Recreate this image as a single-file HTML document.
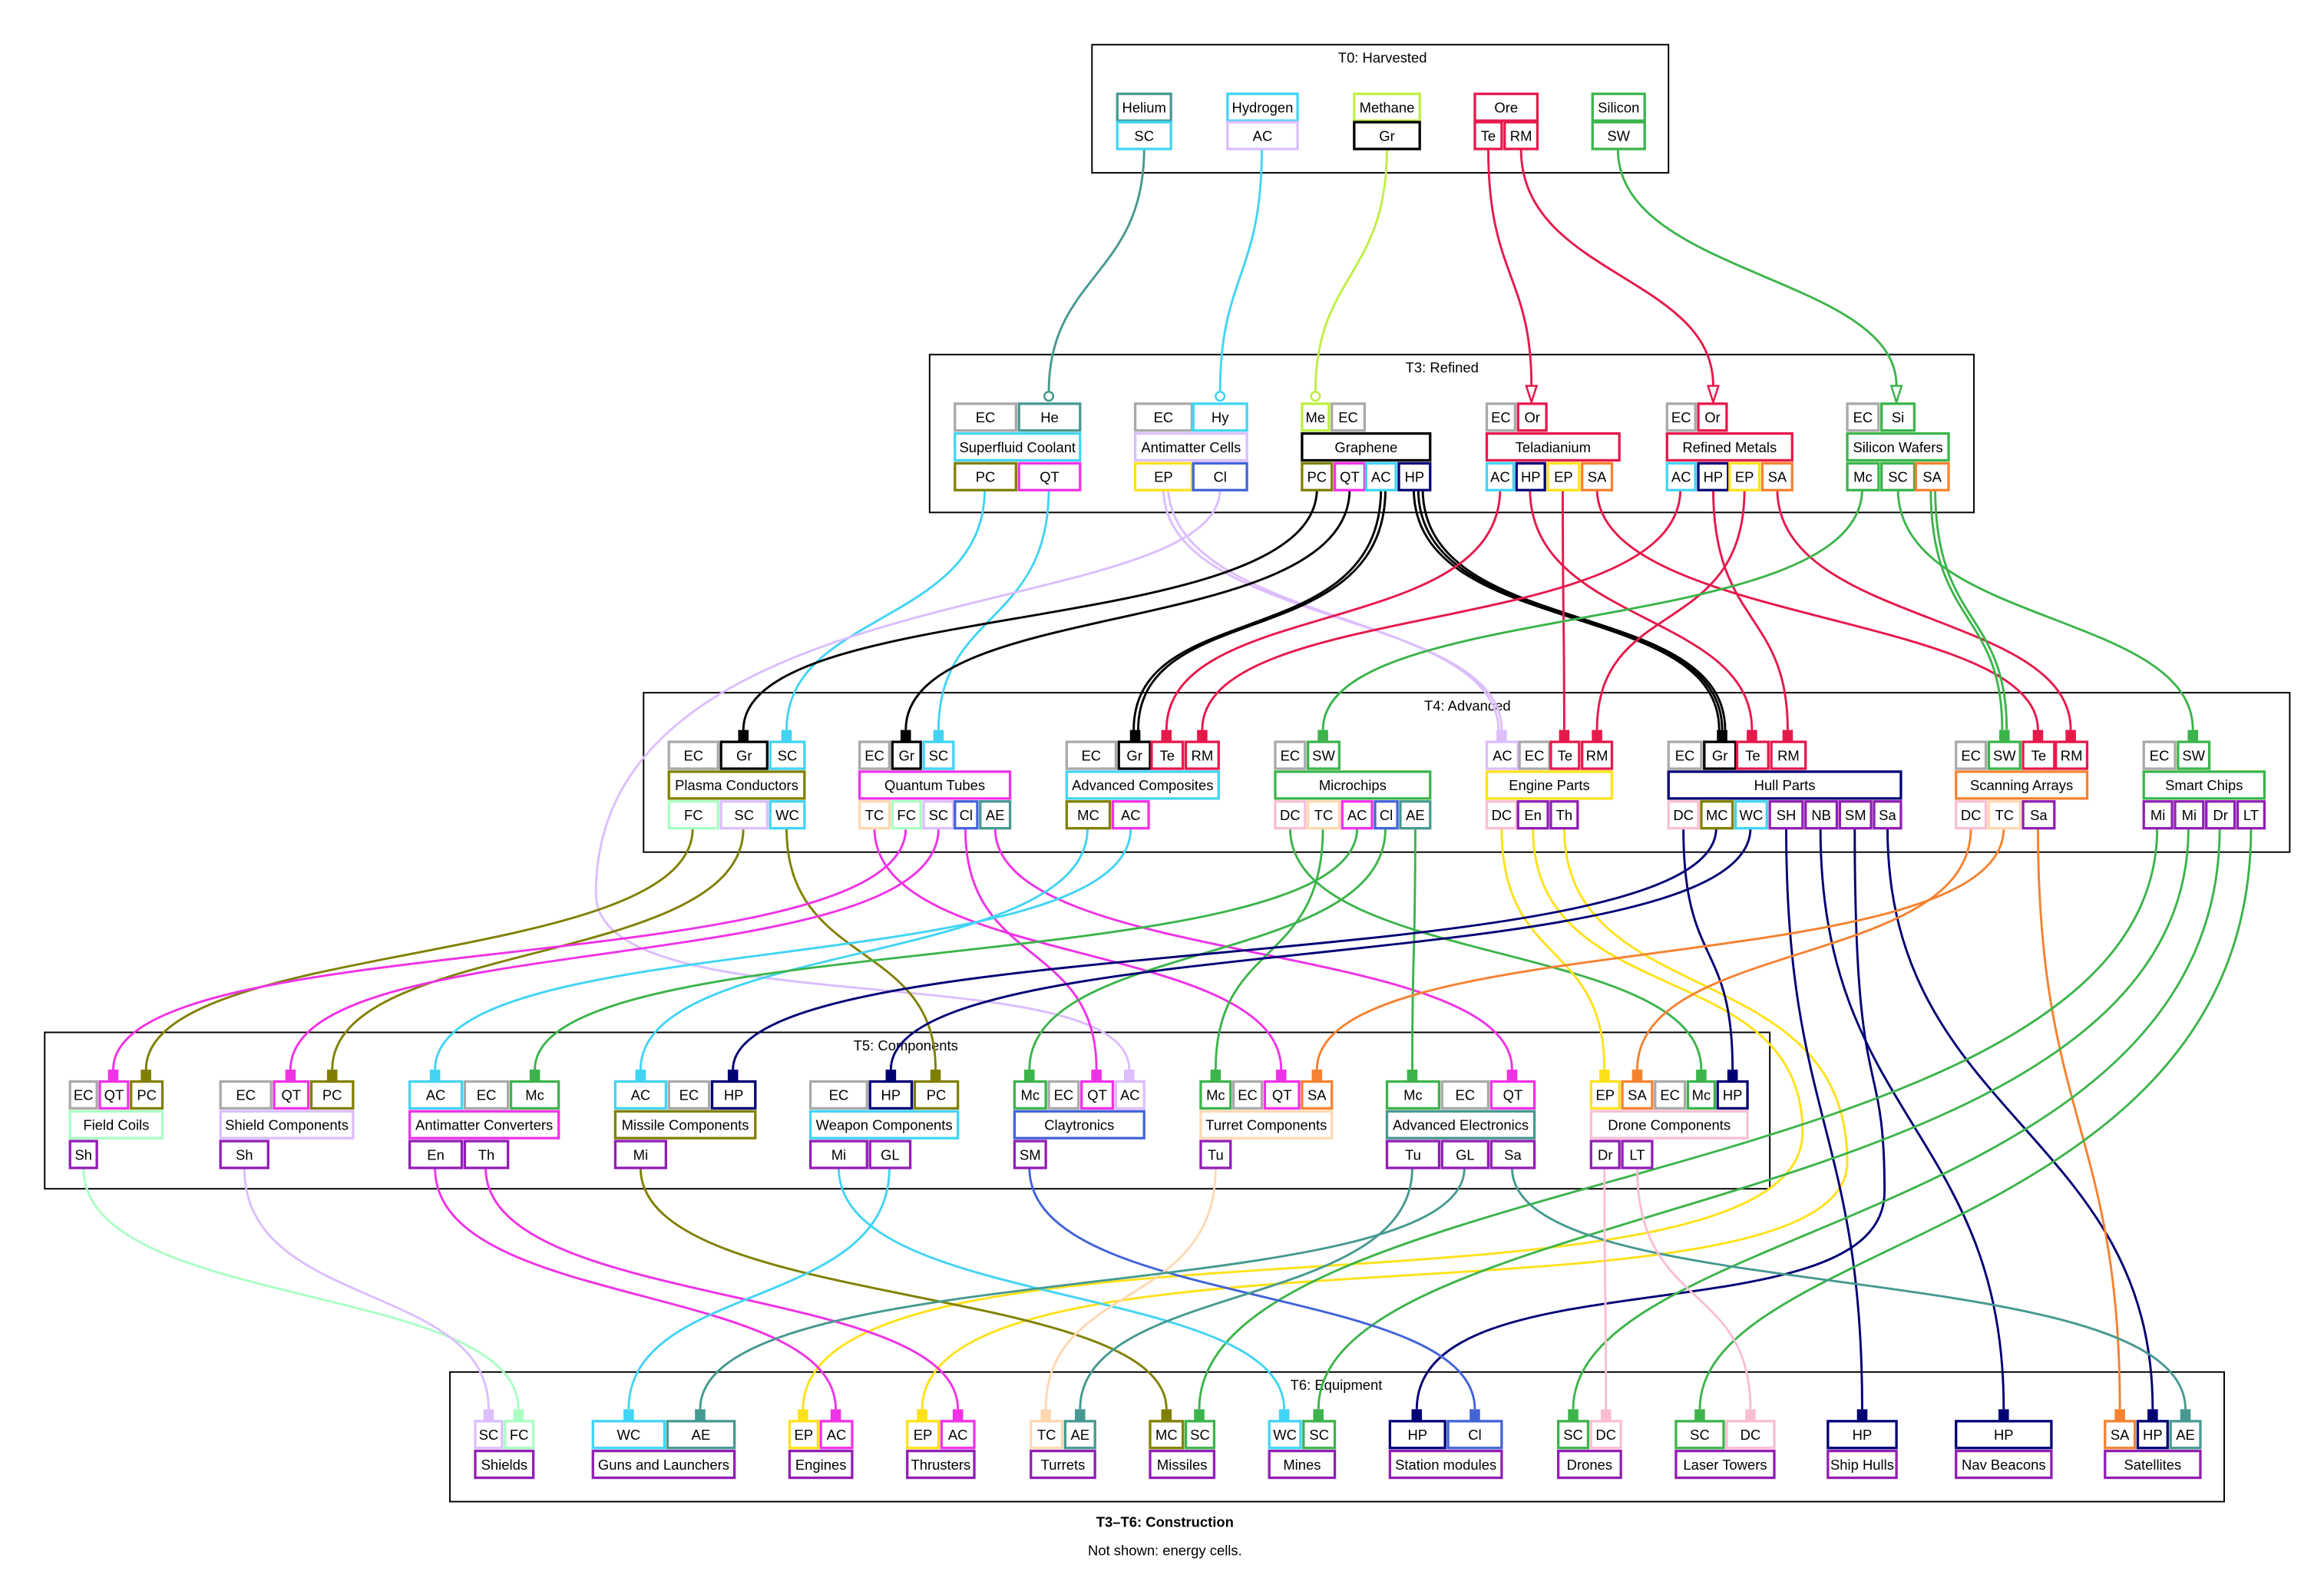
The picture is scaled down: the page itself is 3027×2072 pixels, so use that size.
<!DOCTYPE html>
<html><head><meta charset="utf-8"><style>
html,body{margin:0;padding:0;background:#fff}
svg{display:block}
text{font-family:"Liberation Sans",sans-serif;font-size:9.5px;text-anchor:middle;fill:#000}
.n rect{fill:#fff;stroke-width:1.7}
.e path{fill:none;stroke-width:1.5}
.cl{fill:none;stroke:#000;stroke-width:1}
</style></head><body>
<svg width="3027" height="2072" viewBox="0 0 1560 1068" preserveAspectRatio="none" xmlns="http://www.w3.org/2000/svg">
<rect x="0" y="0" width="1560" height="1068" fill="#fff"/>
<!-- clusters -->
<rect class="cl" x="733" y="30" width="387" height="86"/>
<text x="928" y="42">T0: Harvested</text>
<rect class="cl" x="624" y="238" width="701" height="106"/>
<text x="968" y="250">T3: Refined</text>
<rect class="cl" x="432" y="465" width="1105" height="107"/>
<text x="985" y="477">T4: Advanced</text>
<rect class="cl" x="30" y="693" width="1158" height="105"/>
<text x="608" y="705">T5: Components</text>
<rect class="cl" x="302" y="921" width="1191" height="87"/>
<text x="897" y="933">T6: Equipment</text>
<text x="782" y="1025" style="font-weight:bold">T3–T6: Construction</text>
<text x="782" y="1044">Not shown: energy cells.</text>

<!-- edges T0->T3 -->
<g class="e">
<path stroke="#469990" d="M768 100 C768 185 704 185 704 263"/>
<path stroke="#42d4f4" d="M847 100 C847 185 819 185 819 263"/>
<path stroke="#bfef45" d="M931 100 C931 185 883 185 883 263"/>
<path stroke="#e6194b" d="M999 100 C999 185 1028 185 1028 259"/>
<path stroke="#e6194b" d="M1021 100 C1021 185 1150 185 1150 259"/>
<path stroke="#3cb44b" d="M1086 100 C1086 185 1273 185 1273 259"/>
</g>
<g fill="#fff" stroke-width="1.3">
<circle cx="704" cy="266" r="3" stroke="#469990"/>
<circle cx="819" cy="266" r="3" stroke="#42d4f4"/>
<circle cx="883" cy="266" r="3" stroke="#bfef45"/>
<polygon points="1024.5,259 1031.5,259 1028,270" stroke="#e6194b"/>
<polygon points="1146.5,259 1153.5,259 1150,270" stroke="#e6194b"/>
<polygon points="1269.5,259 1276.5,259 1273,270" stroke="#3cb44b"/>
</g>

<!-- edges T3->T4 -->
<g class="e">
<path stroke="#42d4f4" d="M661 328 C661 420 528 410 528 490"/>
<path stroke="#42d4f4" d="M704 328 C704 420 630 410 630 490"/>
<path stroke="#dcbeff" d="M781 328 C781 420 1008 410 1008 490"/>
<path stroke="#dcbeff" d="M784 328 C790 420 1004 410 1006 490"/>
<path stroke="#dcbeff" d="M819 328 C819 420 400 380 400 600 C400 690 758 640 758 718"/>
<path stroke="#000" d="M884 328 C884 430 499 400 499 490"/>
<path stroke="#000" d="M906 328 C906 430 608 400 608 490"/>
<path stroke="#000" d="M927 328 C927 440 761 400 761 490"/>
<path stroke="#000" d="M930 328 C930 440 764 400 764 490"/>
<path stroke="#000" d="M949 328 C949 430 1154 400 1154 490"/>
<path stroke="#000" d="M952 328 C952 430 1156 400 1156 490"/>
<path stroke="#000" d="M955 328 C955 430 1158 400 1158 490"/>
<path stroke="#e6194b" d="M1007 328 C1007 430 783 400 783 490"/>
<path stroke="#e6194b" d="M1027 328 C1027 420 1176 410 1176 490"/>
<path stroke="#e6194b" d="M1049 328 C1049 420 1050 410 1050 490"/>
<path stroke="#e6194b" d="M1072 328 C1072 420 1368 410 1368 490"/>
<path stroke="#e6194b" d="M1128 328 C1128 430 807 400 807 490"/>
<path stroke="#e6194b" d="M1150 328 C1150 420 1200 410 1200 490"/>
<path stroke="#e6194b" d="M1171 328 C1171 430 1072 400 1072 490"/>
<path stroke="#e6194b" d="M1193 328 C1193 420 1390 410 1390 490"/>
<path stroke="#3cb44b" d="M1250 328 C1250 430 888 400 888 490"/>
<path stroke="#3cb44b" d="M1274 328 C1274 420 1472 410 1472 490"/>
<path stroke="#3cb44b" d="M1296 328 C1296 420 1344 410 1344 490"/>
<path stroke="#3cb44b" d="M1299 328 C1299 420 1347 410 1347 490"/>
</g>

<!-- edges T4->T5 -->
<g class="e">
<path stroke="#808000" d="M465 556 C465 650 98 630 98 718"/>
<path stroke="#808000" d="M499 556 C499 650 223 630 223 718"/>
<path stroke="#808000" d="M528 556 C528 650 628 630 628 718"/>
<path stroke="#f032e6" d="M587 556 C587 650 860 630 860 718"/>
<path stroke="#f032e6" d="M608 556 C608 660 76 620 76 718"/>
<path stroke="#f032e6" d="M630 556 C630 660 195 620 195 718"/>
<path stroke="#f032e6" d="M648 556 C648 650 736 630 736 718"/>
<path stroke="#f032e6" d="M668 556 C668 650 1015 630 1015 718"/>
<path stroke="#42d4f4" d="M730 556 C730 650 430 630 430 718"/>
<path stroke="#42d4f4" d="M759 556 C759 660 292 620 292 718"/>
<path stroke="#3cb44b" d="M866 556 C866 650 1142 630 1142 718"/>
<path stroke="#3cb44b" d="M888 556 C888 650 816 630 816 718"/>
<path stroke="#3cb44b" d="M911 556 C911 660 359 620 359 718"/>
<path stroke="#3cb44b" d="M930 556 C930 650 691 630 691 718"/>
<path stroke="#3cb44b" d="M950 556 C950 650 948 630 948 718"/>
<path stroke="#ffe119" d="M1008 556 C1008 650 1077 630 1077 718"/>
<path stroke="#ffe119" d="M1029 556 C1029 680 1210 640 1210 760 C1210 900 539 800 539 946"/>
<path stroke="#ffe119" d="M1050 556 C1050 680 1240 640 1240 780 C1240 900 619 810 619 946"/>
<path stroke="#000075" d="M1130 556 C1130 650 1163 630 1163 718"/>
<path stroke="#000075" d="M1152 556 C1152 660 492 620 492 718"/>
<path stroke="#000075" d="M1175 556 C1175 660 598 620 598 718"/>
<path stroke="#000075" d="M1199 556 C1199 750 1250 760 1250 946"/>
<path stroke="#000075" d="M1222 556 C1222 750 1345 760 1345 946"/>
<path stroke="#000075" d="M1245 556 C1245 750 1265 700 1265 800 C1265 900 951 840 951 946"/>
<path stroke="#000075" d="M1267 556 C1267 750 1445 760 1445 946"/>
<path stroke="#f58231" d="M1323 556 C1323 650 1099 630 1099 718"/>
<path stroke="#f58231" d="M1345 556 C1345 660 884 620 884 718"/>
<path stroke="#f58231" d="M1368 556 C1368 750 1423 760 1423 946"/>
<path stroke="#3cb44b" d="M1448 556 C1448 800 805 780 805 946"/>
<path stroke="#3cb44b" d="M1469 556 C1469 820 885 800 885 946"/>
<path stroke="#3cb44b" d="M1490 556 C1490 820 1056 820 1056 946"/>
<path stroke="#3cb44b" d="M1511 556 C1511 830 1141 830 1141 946"/>
</g>

<!-- edges T5->T6 -->
<g class="e">
<path stroke="#aaffc3" d="M56 784 C56 880 348 860 348 946"/>
<path stroke="#dcbeff" d="M164 784 C164 880 328 860 328 946"/>
<path stroke="#f032e6" d="M292 784 C292 880 561 860 561 946"/>
<path stroke="#f032e6" d="M326 784 C326 880 643 860 643 946"/>
<path stroke="#808000" d="M430 784 C430 880 783 860 783 946"/>
<path stroke="#42d4f4" d="M563 784 C563 880 862 860 862 946"/>
<path stroke="#42d4f4" d="M597 784 C597 880 422 860 422 946"/>
<path stroke="#4363d8" d="M691 784 C691 880 990 860 990 946"/>
<path stroke="#ffd8b1" d="M816 784 C816 880 702 860 702 946"/>
<path stroke="#469990" d="M948 784 C948 880 725 860 725 946"/>
<path stroke="#469990" d="M983 784 C983 880 470 840 470 946"/>
<path stroke="#469990" d="M1015 784 C1015 880 1467 840 1467 946"/>
<path stroke="#fabed4" d="M1077 784 C1077 880 1078 860 1078 946"/>
<path stroke="#fabed4" d="M1099 784 C1099 880 1175 860 1175 946"/>
</g>

<!-- square arrowheads -->
<g>
<rect x="524.5" y="490" width="7" height="8" fill="#42d4f4"/>
<rect x="626.5" y="490" width="7" height="8" fill="#42d4f4"/>
<rect x="1004.5" y="490" width="7" height="8" fill="#dcbeff"/>
<rect x="754.5" y="718" width="7" height="8" fill="#dcbeff"/>
<rect x="495.5" y="490" width="7" height="8" fill="#000"/>
<rect x="604.5" y="490" width="7" height="8" fill="#000"/>
<rect x="758.5" y="490" width="7" height="8" fill="#000"/>
<rect x="1152.5" y="490" width="7" height="8" fill="#000"/>
<rect x="779.5" y="490" width="7" height="8" fill="#e6194b"/>
<rect x="1172.5" y="490" width="7" height="8" fill="#e6194b"/>
<rect x="1046.5" y="490" width="7" height="8" fill="#e6194b"/>
<rect x="1364.5" y="490" width="7" height="8" fill="#e6194b"/>
<rect x="803.5" y="490" width="7" height="8" fill="#e6194b"/>
<rect x="1196.5" y="490" width="7" height="8" fill="#e6194b"/>
<rect x="1068.5" y="490" width="7" height="8" fill="#e6194b"/>
<rect x="1386.5" y="490" width="7" height="8" fill="#e6194b"/>
<rect x="884.5" y="490" width="7" height="8" fill="#3cb44b"/>
<rect x="1468.5" y="490" width="7" height="8" fill="#3cb44b"/>
<rect x="1342" y="490" width="7" height="8" fill="#3cb44b"/>

<rect x="94.5" y="718" width="7" height="8" fill="#808000"/>
<rect x="219.5" y="718" width="7" height="8" fill="#808000"/>
<rect x="624.5" y="718" width="7" height="8" fill="#808000"/>
<rect x="856.5" y="718" width="7" height="8" fill="#f032e6"/>
<rect x="72.5" y="718" width="7" height="8" fill="#f032e6"/>
<rect x="191.5" y="718" width="7" height="8" fill="#f032e6"/>
<rect x="732.5" y="718" width="7" height="8" fill="#f032e6"/>
<rect x="1011.5" y="718" width="7" height="8" fill="#f032e6"/>
<rect x="426.5" y="718" width="7" height="8" fill="#42d4f4"/>
<rect x="288.5" y="718" width="7" height="8" fill="#42d4f4"/>
<rect x="1138.5" y="718" width="7" height="8" fill="#3cb44b"/>
<rect x="812.5" y="718" width="7" height="8" fill="#3cb44b"/>
<rect x="355.5" y="718" width="7" height="8" fill="#3cb44b"/>
<rect x="687.5" y="718" width="7" height="8" fill="#3cb44b"/>
<rect x="944.5" y="718" width="7" height="8" fill="#3cb44b"/>
<rect x="1073.5" y="718" width="7" height="8" fill="#ffe119"/>
<rect x="1159.5" y="718" width="7" height="8" fill="#000075"/>
<rect x="488.5" y="718" width="7" height="8" fill="#000075"/>
<rect x="594.5" y="718" width="7" height="8" fill="#000075"/>
<rect x="1095.5" y="718" width="7" height="8" fill="#f58231"/>
<rect x="880.5" y="718" width="7" height="8" fill="#f58231"/>

<rect x="535.5" y="946" width="7" height="8" fill="#ffe119"/>
<rect x="615.5" y="946" width="7" height="8" fill="#ffe119"/>
<rect x="1246.5" y="946" width="7" height="8" fill="#000075"/>
<rect x="1341.5" y="946" width="7" height="8" fill="#000075"/>
<rect x="947.5" y="946" width="7" height="8" fill="#000075"/>
<rect x="1441.5" y="946" width="7" height="8" fill="#000075"/>
<rect x="1419.5" y="946" width="7" height="8" fill="#f58231"/>
<rect x="801.5" y="946" width="7" height="8" fill="#3cb44b"/>
<rect x="881.5" y="946" width="7" height="8" fill="#3cb44b"/>
<rect x="1052.5" y="946" width="7" height="8" fill="#3cb44b"/>
<rect x="1137.5" y="946" width="7" height="8" fill="#3cb44b"/>
<rect x="344.5" y="946" width="7" height="8" fill="#aaffc3"/>
<rect x="324.5" y="946" width="7" height="8" fill="#dcbeff"/>
<rect x="557.5" y="946" width="7" height="8" fill="#f032e6"/>
<rect x="639.5" y="946" width="7" height="8" fill="#f032e6"/>
<rect x="779.5" y="946" width="7" height="8" fill="#808000"/>
<rect x="858.5" y="946" width="7" height="8" fill="#42d4f4"/>
<rect x="418.5" y="946" width="7" height="8" fill="#42d4f4"/>
<rect x="986.5" y="946" width="7" height="8" fill="#4363d8"/>
<rect x="698.5" y="946" width="7" height="8" fill="#ffd8b1"/>
<rect x="721.5" y="946" width="7" height="8" fill="#469990"/>
<rect x="466.5" y="946" width="7" height="8" fill="#469990"/>
<rect x="1463.5" y="946" width="7" height="8" fill="#469990"/>
<rect x="1074.5" y="946" width="7" height="8" fill="#fabed4"/>
<rect x="1171.5" y="946" width="7" height="8" fill="#fabed4"/>
</g>

<!-- NODES -->
<g class="n">
<!-- T0 -->
<rect x="750" y="63" width="36" height="18" stroke="#469990"/><text x="768" y="75.5">Helium</text>
<rect x="750" y="82" width="36" height="18" stroke="#42d4f4"/><text x="768" y="94.5">SC</text>
<rect x="824" y="63" width="47" height="18" stroke="#42d4f4"/><text x="847.5" y="75.5">Hydrogen</text>
<rect x="824" y="82" width="47" height="18" stroke="#dcbeff"/><text x="847.5" y="94.5">AC</text>
<rect x="909" y="63" width="44" height="18" stroke="#bfef45"/><text x="931" y="75.5">Methane</text>
<rect x="909" y="82" width="44" height="18" stroke="#000"/><text x="931" y="94.5">Gr</text>
<rect x="990" y="63" width="42" height="18" stroke="#e6194b"/><text x="1011" y="75.5">Ore</text>
<rect x="990" y="82" width="18" height="18" stroke="#e6194b"/><text x="999" y="94.5">Te</text>
<rect x="1010" y="82" width="22" height="18" stroke="#e6194b"/><text x="1021" y="94.5">RM</text>
<rect x="1069" y="63" width="35" height="18" stroke="#3cb44b"/><text x="1086.5" y="75.5">Silicon</text>
<rect x="1069" y="82" width="35" height="18" stroke="#3cb44b"/><text x="1086.5" y="94.5">SW</text>

<!-- T3 -->
<rect x="641" y="271" width="41" height="18" stroke="#a9a9a9"/><text x="661.5" y="283.5">EC</text>
<rect x="684" y="271" width="41" height="18" stroke="#469990"/><text x="704.5" y="283.5">He</text>
<rect x="641" y="291" width="84" height="18" stroke="#42d4f4"/><text x="683" y="303.5">Superfluid Coolant</text>
<rect x="641" y="311" width="41" height="18" stroke="#808000"/><text x="661.5" y="323.5">PC</text>
<rect x="684" y="311" width="41" height="18" stroke="#f032e6"/><text x="704.5" y="323.5">QT</text>

<rect x="762" y="271" width="38" height="18" stroke="#a9a9a9"/><text x="781" y="283.5">EC</text>
<rect x="801" y="271" width="36" height="18" stroke="#42d4f4"/><text x="819" y="283.5">Hy</text>
<rect x="762" y="291" width="75" height="18" stroke="#dcbeff"/><text x="799.5" y="303.5">Antimatter Cells</text>
<rect x="762" y="311" width="38" height="18" stroke="#ffe119"/><text x="781" y="323.5">EP</text>
<rect x="801" y="311" width="36" height="18" stroke="#4363d8"/><text x="819" y="323.5">Cl</text>

<rect x="874" y="271" width="18" height="18" stroke="#bfef45"/><text x="883" y="283.5">Me</text>
<rect x="894" y="271" width="22" height="18" stroke="#a9a9a9"/><text x="905" y="283.5">EC</text>
<rect x="874" y="291" width="86" height="18" stroke="#000"/><text x="917" y="303.5">Graphene</text>
<rect x="874" y="311" width="20" height="18" stroke="#808000"/><text x="884" y="323.5">PC</text>
<rect x="896" y="311" width="20" height="18" stroke="#f032e6"/><text x="906" y="323.5">QT</text>
<rect x="917" y="311" width="20" height="18" stroke="#42d4f4"/><text x="927" y="323.5">AC</text>
<rect x="939" y="311" width="21" height="18" stroke="#000075"/><text x="949.5" y="323.5">HP</text>

<rect x="998" y="271" width="19" height="18" stroke="#a9a9a9"/><text x="1007.5" y="283.5">EC</text>
<rect x="1019" y="271" width="19" height="18" stroke="#e6194b"/><text x="1028.5" y="283.5">Or</text>
<rect x="998" y="291" width="89" height="18" stroke="#e6194b"/><text x="1042.5" y="303.5">Teladianium</text>
<rect x="998" y="311" width="18" height="18" stroke="#42d4f4"/><text x="1007" y="323.5">AC</text>
<rect x="1018" y="311" width="19" height="18" stroke="#000075"/><text x="1027.5" y="323.5">HP</text>
<rect x="1039" y="311" width="21" height="18" stroke="#ffe119"/><text x="1049.5" y="323.5">EP</text>
<rect x="1062" y="311" width="20" height="18" stroke="#f58231"/><text x="1072" y="323.5">SA</text>

<rect x="1119" y="271" width="19" height="18" stroke="#a9a9a9"/><text x="1128.5" y="283.5">EC</text>
<rect x="1140" y="271" width="19" height="18" stroke="#e6194b"/><text x="1149.5" y="283.5">Or</text>
<rect x="1119" y="291" width="84" height="18" stroke="#e6194b"/><text x="1161" y="303.5">Refined Metals</text>
<rect x="1119" y="311" width="19" height="18" stroke="#42d4f4"/><text x="1128.5" y="323.5">AC</text>
<rect x="1140" y="311" width="20" height="18" stroke="#000075"/><text x="1150" y="323.5">HP</text>
<rect x="1161" y="311" width="20" height="18" stroke="#ffe119"/><text x="1171" y="323.5">EP</text>
<rect x="1183" y="311" width="20" height="18" stroke="#f58231"/><text x="1193" y="323.5">SA</text>

<rect x="1240" y="271" width="21" height="18" stroke="#a9a9a9"/><text x="1250.5" y="283.5">EC</text>
<rect x="1263" y="271" width="22" height="18" stroke="#3cb44b"/><text x="1274" y="283.5">Si</text>
<rect x="1240" y="291" width="68" height="18" stroke="#3cb44b"/><text x="1274" y="303.5">Silicon Wafers</text>
<rect x="1240" y="311" width="21" height="18" stroke="#3cb44b"/><text x="1250.5" y="323.5">Mc</text>
<rect x="1263" y="311" width="22" height="18" stroke="#3cb44b"/><text x="1274" y="323.5">SC</text>
<rect x="1286" y="311" width="22" height="18" stroke="#f58231"/><text x="1297" y="323.5">SA</text>

<!-- T4 -->
<rect x="449" y="498" width="33" height="18" stroke="#a9a9a9"/><text x="465.5" y="510.5">EC</text>
<rect x="484" y="498" width="31" height="18" stroke="#000"/><text x="499.5" y="510.5">Gr</text>
<rect x="517" y="498" width="23" height="18" stroke="#42d4f4"/><text x="528.5" y="510.5">SC</text>
<rect x="449" y="518" width="91" height="18" stroke="#808000"/><text x="494.5" y="530.5">Plasma Conductors</text>
<rect x="449" y="538" width="33" height="18" stroke="#aaffc3"/><text x="465.5" y="550.5">FC</text>
<rect x="484" y="538" width="31" height="18" stroke="#dcbeff"/><text x="499.5" y="550.5">SC</text>
<rect x="517" y="538" width="23" height="18" stroke="#42d4f4"/><text x="528.5" y="550.5">WC</text>

<rect x="577" y="498" width="20" height="18" stroke="#a9a9a9"/><text x="587" y="510.5">EC</text>
<rect x="599" y="498" width="19" height="18" stroke="#000"/><text x="608.5" y="510.5">Gr</text>
<rect x="620" y="498" width="20" height="18" stroke="#42d4f4"/><text x="630" y="510.5">SC</text>
<rect x="577" y="518" width="101" height="18" stroke="#f032e6"/><text x="627.5" y="530.5">Quantum Tubes</text>
<rect x="577" y="538" width="20" height="18" stroke="#ffd8b1"/><text x="587" y="550.5">TC</text>
<rect x="599" y="538" width="19" height="18" stroke="#aaffc3"/><text x="608.5" y="550.5">FC</text>
<rect x="620" y="538" width="20" height="18" stroke="#dcbeff"/><text x="630" y="550.5">SC</text>
<rect x="641" y="538" width="15" height="18" stroke="#4363d8"/><text x="648.5" y="550.5">Cl</text>
<rect x="658" y="538" width="20" height="18" stroke="#469990"/><text x="668" y="550.5">AE</text>

<rect x="716" y="498" width="33" height="18" stroke="#a9a9a9"/><text x="732.5" y="510.5">EC</text>
<rect x="751" y="498" width="21" height="18" stroke="#000"/><text x="761.5" y="510.5">Gr</text>
<rect x="773" y="498" width="21" height="18" stroke="#e6194b"/><text x="783.5" y="510.5">Te</text>
<rect x="796" y="498" width="22" height="18" stroke="#e6194b"/><text x="807" y="510.5">RM</text>
<rect x="716" y="518" width="102" height="18" stroke="#42d4f4"/><text x="767" y="530.5">Advanced Composites</text>
<rect x="716" y="538" width="29" height="18" stroke="#808000"/><text x="730.5" y="550.5">MC</text>
<rect x="747" y="538" width="24" height="18" stroke="#f032e6"/><text x="759" y="550.5">AC</text>

<rect x="856" y="498" width="20" height="18" stroke="#a9a9a9"/><text x="866" y="510.5">EC</text>
<rect x="878" y="498" width="21" height="18" stroke="#3cb44b"/><text x="888.5" y="510.5">SW</text>
<rect x="856" y="518" width="104" height="18" stroke="#3cb44b"/><text x="908" y="530.5">Microchips</text>
<rect x="856" y="538" width="20" height="18" stroke="#fabed4"/><text x="866" y="550.5">DC</text>
<rect x="878" y="538" width="21" height="18" stroke="#ffd8b1"/><text x="888.5" y="550.5">TC</text>
<rect x="901" y="538" width="20" height="18" stroke="#f032e6"/><text x="911" y="550.5">AC</text>
<rect x="923" y="538" width="15" height="18" stroke="#4363d8"/><text x="930.5" y="550.5">Cl</text>
<rect x="940" y="538" width="20" height="18" stroke="#469990"/><text x="950" y="550.5">AE</text>

<rect x="998" y="498" width="21" height="18" stroke="#dcbeff"/><text x="1008.5" y="510.5">AC</text>
<rect x="1020" y="498" width="20" height="18" stroke="#a9a9a9"/><text x="1030" y="510.5">EC</text>
<rect x="1041" y="498" width="19" height="18" stroke="#e6194b"/><text x="1050.5" y="510.5">Te</text>
<rect x="1062" y="498" width="20" height="18" stroke="#e6194b"/><text x="1072" y="510.5">RM</text>
<rect x="998" y="518" width="84" height="18" stroke="#ffe119"/><text x="1040" y="530.5">Engine Parts</text>
<rect x="998" y="538" width="20" height="18" stroke="#fabed4"/><text x="1008" y="550.5">DC</text>
<rect x="1019" y="538" width="20" height="18" stroke="#911eb4"/><text x="1029" y="550.5">En</text>
<rect x="1041" y="538" width="18" height="18" stroke="#911eb4"/><text x="1050" y="550.5">Th</text>

<rect x="1120" y="498" width="22" height="18" stroke="#a9a9a9"/><text x="1131" y="510.5">EC</text>
<rect x="1144" y="498" width="21" height="18" stroke="#000"/><text x="1154.5" y="510.5">Gr</text>
<rect x="1166" y="498" width="21" height="18" stroke="#e6194b"/><text x="1176.5" y="510.5">Te</text>
<rect x="1189" y="498" width="23" height="18" stroke="#e6194b"/><text x="1200.5" y="510.5">RM</text>
<rect x="1120" y="518" width="156" height="18" stroke="#000075"/><text x="1198" y="530.5">Hull Parts</text>
<rect x="1120" y="538" width="20" height="18" stroke="#fabed4"/><text x="1130" y="550.5">DC</text>
<rect x="1142" y="538" width="21" height="18" stroke="#808000"/><text x="1152.5" y="550.5">MC</text>
<rect x="1165" y="538" width="21" height="18" stroke="#42d4f4"/><text x="1175.5" y="550.5">WC</text>
<rect x="1188" y="538" width="22" height="18" stroke="#911eb4"/><text x="1199" y="550.5">SH</text>
<rect x="1212" y="538" width="21" height="18" stroke="#911eb4"/><text x="1222.5" y="550.5">NB</text>
<rect x="1235" y="538" width="21" height="18" stroke="#911eb4"/><text x="1245.5" y="550.5">SM</text>
<rect x="1258" y="538" width="18" height="18" stroke="#911eb4"/><text x="1267" y="550.5">Sa</text>

<rect x="1313" y="498" width="20" height="18" stroke="#a9a9a9"/><text x="1323" y="510.5">EC</text>
<rect x="1335" y="498" width="21" height="18" stroke="#3cb44b"/><text x="1345.5" y="510.5">SW</text>
<rect x="1358" y="498" width="21" height="18" stroke="#e6194b"/><text x="1368.5" y="510.5">Te</text>
<rect x="1380" y="498" width="21" height="18" stroke="#e6194b"/><text x="1390.5" y="510.5">RM</text>
<rect x="1313" y="518" width="88" height="18" stroke="#f58231"/><text x="1357" y="530.5">Scanning Arrays</text>
<rect x="1313" y="538" width="20" height="18" stroke="#fabed4"/><text x="1323" y="550.5">DC</text>
<rect x="1335" y="538" width="21" height="18" stroke="#ffd8b1"/><text x="1345.5" y="550.5">TC</text>
<rect x="1358" y="538" width="21" height="18" stroke="#911eb4"/><text x="1368.5" y="550.5">Sa</text>

<rect x="1439" y="498" width="21" height="18" stroke="#a9a9a9"/><text x="1449.5" y="510.5">EC</text>
<rect x="1462" y="498" width="21" height="18" stroke="#3cb44b"/><text x="1472.5" y="510.5">SW</text>
<rect x="1439" y="518" width="81" height="18" stroke="#3cb44b"/><text x="1479.5" y="530.5">Smart Chips</text>
<rect x="1439" y="538" width="19" height="18" stroke="#911eb4"/><text x="1448.5" y="550.5">Mi</text>
<rect x="1460" y="538" width="19" height="18" stroke="#911eb4"/><text x="1469.5" y="550.5">Mi</text>
<rect x="1481" y="538" width="19" height="18" stroke="#911eb4"/><text x="1490.5" y="550.5">Dr</text>
<rect x="1502" y="538" width="18" height="18" stroke="#911eb4"/><text x="1511" y="550.5">LT</text>

<!-- T5 -->
<rect x="47" y="726" width="18" height="18" stroke="#a9a9a9"/><text x="56" y="738.5">EC</text>
<rect x="67" y="726" width="19" height="18" stroke="#f032e6"/><text x="76.5" y="738.5">QT</text>
<rect x="88" y="726" width="21" height="18" stroke="#808000"/><text x="98.5" y="738.5">PC</text>
<rect x="47" y="746" width="62" height="18" stroke="#aaffc3"/><text x="78" y="758.5">Field Coils</text>
<rect x="47" y="766" width="18" height="18" stroke="#911eb4"/><text x="56" y="778.5">Sh</text>

<rect x="148" y="726" width="34" height="18" stroke="#a9a9a9"/><text x="165" y="738.5">EC</text>
<rect x="184" y="726" width="23" height="18" stroke="#f032e6"/><text x="195.5" y="738.5">QT</text>
<rect x="209" y="726" width="28" height="18" stroke="#808000"/><text x="223" y="738.5">PC</text>
<rect x="148" y="746" width="89" height="18" stroke="#dcbeff"/><text x="192.5" y="758.5">Shield Components</text>
<rect x="148" y="766" width="32" height="18" stroke="#911eb4"/><text x="164" y="778.5">Sh</text>

<rect x="275" y="726" width="35" height="18" stroke="#42d4f4"/><text x="292.5" y="738.5">AC</text>
<rect x="312" y="726" width="29" height="18" stroke="#a9a9a9"/><text x="326.5" y="738.5">EC</text>
<rect x="343" y="726" width="32" height="18" stroke="#3cb44b"/><text x="359" y="738.5">Mc</text>
<rect x="275" y="746" width="100" height="18" stroke="#f032e6"/><text x="325" y="758.5">Antimatter Converters</text>
<rect x="275" y="766" width="35" height="18" stroke="#911eb4"/><text x="292.5" y="778.5">En</text>
<rect x="312" y="766" width="29" height="18" stroke="#911eb4"/><text x="326.5" y="778.5">Th</text>

<rect x="413" y="726" width="34" height="18" stroke="#42d4f4"/><text x="430" y="738.5">AC</text>
<rect x="449" y="726" width="27" height="18" stroke="#a9a9a9"/><text x="462.5" y="738.5">EC</text>
<rect x="478" y="726" width="29" height="18" stroke="#000075"/><text x="492.5" y="738.5">HP</text>
<rect x="413" y="746" width="94" height="18" stroke="#808000"/><text x="460" y="758.5">Missile Components</text>
<rect x="413" y="766" width="34" height="18" stroke="#911eb4"/><text x="430" y="778.5">Mi</text>

<rect x="544" y="726" width="38" height="18" stroke="#a9a9a9"/><text x="563" y="738.5">EC</text>
<rect x="584" y="726" width="28" height="18" stroke="#000075"/><text x="598" y="738.5">HP</text>
<rect x="614" y="726" width="29" height="18" stroke="#808000"/><text x="628.5" y="738.5">PC</text>
<rect x="544" y="746" width="99" height="18" stroke="#42d4f4"/><text x="593.5" y="758.5">Weapon Components</text>
<rect x="544" y="766" width="38" height="18" stroke="#911eb4"/><text x="563" y="778.5">Mi</text>
<rect x="584" y="766" width="27" height="18" stroke="#911eb4"/><text x="597.5" y="778.5">GL</text>

<rect x="681" y="726" width="21" height="18" stroke="#3cb44b"/><text x="691.5" y="738.5">Mc</text>
<rect x="704" y="726" width="20" height="18" stroke="#a9a9a9"/><text x="714" y="738.5">EC</text>
<rect x="726" y="726" width="21" height="18" stroke="#f032e6"/><text x="736.5" y="738.5">QT</text>
<rect x="749" y="726" width="19" height="18" stroke="#dcbeff"/><text x="758.5" y="738.5">AC</text>
<rect x="681" y="746" width="87" height="18" stroke="#4363d8"/><text x="724.5" y="758.5">Claytronics</text>
<rect x="681" y="766" width="21" height="18" stroke="#911eb4"/><text x="691.5" y="778.5">SM</text>

<rect x="806" y="726" width="20" height="18" stroke="#3cb44b"/><text x="816" y="738.5">Mc</text>
<rect x="828" y="726" width="19" height="18" stroke="#a9a9a9"/><text x="837.5" y="738.5">EC</text>
<rect x="849" y="726" width="23" height="18" stroke="#f032e6"/><text x="860.5" y="738.5">QT</text>
<rect x="874" y="726" width="20" height="18" stroke="#f58231"/><text x="884" y="738.5">SA</text>
<rect x="806" y="746" width="88" height="18" stroke="#ffd8b1"/><text x="850" y="758.5">Turret Components</text>
<rect x="806" y="766" width="20" height="18" stroke="#911eb4"/><text x="816" y="778.5">Tu</text>

<rect x="931" y="726" width="35" height="18" stroke="#3cb44b"/><text x="948.5" y="738.5">Mc</text>
<rect x="968" y="726" width="31" height="18" stroke="#a9a9a9"/><text x="983.5" y="738.5">EC</text>
<rect x="1001" y="726" width="29" height="18" stroke="#f032e6"/><text x="1015.5" y="738.5">QT</text>
<rect x="931" y="746" width="99" height="18" stroke="#469990"/><text x="980.5" y="758.5">Advanced Electronics</text>
<rect x="931" y="766" width="35" height="18" stroke="#911eb4"/><text x="948.5" y="778.5">Tu</text>
<rect x="968" y="766" width="31" height="18" stroke="#911eb4"/><text x="983.5" y="778.5">GL</text>
<rect x="1001" y="766" width="29" height="18" stroke="#911eb4"/><text x="1015.5" y="778.5">Sa</text>

<rect x="1068" y="726" width="19" height="18" stroke="#ffe119"/><text x="1077.5" y="738.5">EP</text>
<rect x="1089" y="726" width="20" height="18" stroke="#f58231"/><text x="1099" y="738.5">SA</text>
<rect x="1111" y="726" width="20" height="18" stroke="#a9a9a9"/><text x="1121" y="738.5">EC</text>
<rect x="1133" y="726" width="18" height="18" stroke="#3cb44b"/><text x="1142" y="738.5">Mc</text>
<rect x="1153" y="726" width="20" height="18" stroke="#000075"/><text x="1163" y="738.5">HP</text>
<rect x="1068" y="746" width="105" height="18" stroke="#fabed4"/><text x="1120.5" y="758.5">Drone Components</text>
<rect x="1068" y="766" width="19" height="18" stroke="#911eb4"/><text x="1077.5" y="778.5">Dr</text>
<rect x="1089" y="766" width="20" height="18" stroke="#911eb4"/><text x="1099" y="778.5">LT</text>

<!-- T6 -->
<rect x="319" y="954" width="18" height="18" stroke="#dcbeff"/><text x="328" y="966.5">SC</text>
<rect x="339" y="954" width="19" height="18" stroke="#aaffc3"/><text x="348.5" y="966.5">FC</text>
<rect x="319" y="974" width="39" height="18" stroke="#911eb4"/><text x="338.5" y="986.5">Shields</text>

<rect x="398" y="954" width="48" height="18" stroke="#42d4f4"/><text x="422" y="966.5">WC</text>
<rect x="448" y="954" width="45" height="18" stroke="#469990"/><text x="470.5" y="966.5">AE</text>
<rect x="398" y="974" width="95" height="18" stroke="#911eb4"/><text x="445.5" y="986.5">Guns and Launchers</text>

<rect x="530" y="954" width="19" height="18" stroke="#ffe119"/><text x="539.5" y="966.5">EP</text>
<rect x="551" y="954" width="21" height="18" stroke="#f032e6"/><text x="561.5" y="966.5">AC</text>
<rect x="530" y="974" width="42" height="18" stroke="#911eb4"/><text x="551" y="986.5">Engines</text>

<rect x="609" y="954" width="21" height="18" stroke="#ffe119"/><text x="619.5" y="966.5">EP</text>
<rect x="632" y="954" width="22" height="18" stroke="#f032e6"/><text x="643" y="966.5">AC</text>
<rect x="609" y="974" width="45" height="18" stroke="#911eb4"/><text x="631.5" y="986.5">Thrusters</text>

<rect x="692" y="954" width="21" height="18" stroke="#ffd8b1"/><text x="702.5" y="966.5">TC</text>
<rect x="715" y="954" width="20" height="18" stroke="#469990"/><text x="725" y="966.5">AE</text>
<rect x="692" y="974" width="43" height="18" stroke="#911eb4"/><text x="713.5" y="986.5">Turrets</text>

<rect x="772" y="954" width="22" height="18" stroke="#808000"/><text x="783" y="966.5">MC</text>
<rect x="796" y="954" width="19" height="18" stroke="#3cb44b"/><text x="805.5" y="966.5">SC</text>
<rect x="772" y="974" width="43" height="18" stroke="#911eb4"/><text x="793.5" y="986.5">Missiles</text>

<rect x="852" y="954" width="21" height="18" stroke="#42d4f4"/><text x="862.5" y="966.5">WC</text>
<rect x="875" y="954" width="21" height="18" stroke="#3cb44b"/><text x="885.5" y="966.5">SC</text>
<rect x="852" y="974" width="44" height="18" stroke="#911eb4"/><text x="874" y="986.5">Mines</text>

<rect x="933" y="954" width="37" height="18" stroke="#000075"/><text x="951.5" y="966.5">HP</text>
<rect x="972" y="954" width="36" height="18" stroke="#4363d8"/><text x="990" y="966.5">Cl</text>
<rect x="933" y="974" width="75" height="18" stroke="#911eb4"/><text x="970.5" y="986.5">Station modules</text>

<rect x="1046" y="954" width="20" height="18" stroke="#3cb44b"/><text x="1056" y="966.5">SC</text>
<rect x="1068" y="954" width="20" height="18" stroke="#fabed4"/><text x="1078" y="966.5">DC</text>
<rect x="1046" y="974" width="42" height="18" stroke="#911eb4"/><text x="1067" y="986.5">Drones</text>

<rect x="1125" y="954" width="32" height="18" stroke="#3cb44b"/><text x="1141" y="966.5">SC</text>
<rect x="1159" y="954" width="32" height="18" stroke="#fabed4"/><text x="1175" y="966.5">DC</text>
<rect x="1125" y="974" width="66" height="18" stroke="#911eb4"/><text x="1158" y="986.5">Laser Towers</text>

<rect x="1227" y="954" width="46" height="18" stroke="#000075"/><text x="1250" y="966.5">HP</text>
<rect x="1227" y="974" width="46" height="18" stroke="#911eb4"/><text x="1250" y="986.5">Ship Hulls</text>

<rect x="1313" y="954" width="64" height="18" stroke="#000075"/><text x="1345" y="966.5">HP</text>
<rect x="1313" y="974" width="64" height="18" stroke="#911eb4"/><text x="1345" y="986.5">Nav Beacons</text>

<rect x="1413" y="954" width="20" height="18" stroke="#f58231"/><text x="1423" y="966.5">SA</text>
<rect x="1435" y="954" width="20" height="18" stroke="#000075"/><text x="1445" y="966.5">HP</text>
<rect x="1457" y="954" width="20" height="18" stroke="#469990"/><text x="1467" y="966.5">AE</text>
<rect x="1413" y="974" width="64" height="18" stroke="#911eb4"/><text x="1445" y="986.5">Satellites</text>
</g>
</svg>
</body></html>
